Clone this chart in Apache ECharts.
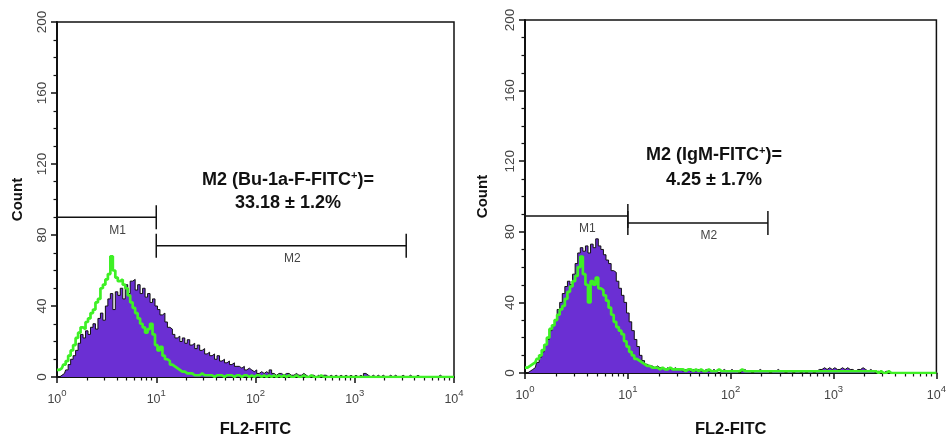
<!DOCTYPE html>
<html>
<head>
<meta charset="utf-8">
<script src="https://cdn.jsdelivr.net/npm/echarts@6/dist/echarts.min.js"></script>
<style>
html,body{margin:0;padding:0;background:#fff;}
#chart{width:949px;height:446px;}
</style>
</head>
<body>
<div id="chart"></div>
<script>
// Histogram channels: log10(FL2-FITC) from 0 to 4, one channel every 0.025 decades
var BIN_STEP = 0.025;

// Left panel (Bu-1a-F-FITC) – filled purple histogram
var leftPurple = [
  0,0,1,2,4,7,10,12,15,19,
  24,22,26,24,28,30,27,33,36,32,
  40,44,47,38,48,46,50,44,52,47,
  54,55,49,52,47,50,45,47,42,44,
  40,38,35,36,31,28,27,24,22,23,
  20,22,19,21,18,19,16,18,15,16,
  13,14,12,13,10,12,9,10,8,9,
  7,8,6,6,5,6,4,5,4,3,
  4,2,3,2,3,2,4,2,1,2,
  2,1,2,2,1,1,2,1,1,2,
  1,0,1,1,0,1,0,1,1,0,
  1,0,1,0,1,0,1,0,1,0,
  1,0,1,0,2,1,0,1,0,1,
  0,1,0,0,1,0,1,0,0,1,
  0,0,1,0,0,1,0,0,0,0,
  0,0,0,0,1,0,0,0,0,0,0
];
// Left panel – green control line
var leftGreen = [
  4,4,5,7,9,12,15,18,22,25,
  28,27,31,33,36,38,42,44,50,52,
  55,58,68,60,56,54,55,52,50,46,
  42,39,36,33,30,28,25,27,30,24,
  18,15,17,12,10,9,7,6,5,4,
  3,3,2,2,2,1,1,1,2,1,
  1,1,1,0,1,1,1,0,1,1,
  1,0,1,1,0,1,1,0,1,0,
  1,1,0,1,0,1,0,1,0,1,
  0,1,0,1,0,0,1,0,0,1,
  0,0,1,0,0,0,1,0,0,0,
  0,0,0,0,0,0,0,0,0,0,
  0,0,0,0,0,0,0,0,0,0,
  0,0,0,0,0,0,0,0,0,0,
  0,0,0,0,0,0,0,0,0,0,
  0,0,0,0,0,0,0,0,0,0,0
];
// Right panel (IgM-FITC) – filled purple histogram
var rightPurple = [
  0,0,1,2,3,6,9,12,16,19,
  24,27,30,36,40,45,49,52,50,56,
  62,68,71,69,72,68,73,71,76,72,
  70,67,64,62,58,57,52,48,44,40,
  34,29,24,19,15,10,7,5,4,4,
  3,4,3,3,2,3,2,2,3,2,
  2,1,2,2,1,2,1,2,1,1,
  2,1,1,2,1,0,1,2,1,1,
  2,1,1,0,1,2,1,1,0,1,
  1,2,1,1,1,0,1,1,2,1,
  1,0,1,1,0,1,1,0,1,0,
  1,1,0,1,2,2,3,2,3,2,
  3,2,2,3,2,3,2,2,1,2,
  2,3,2,1,2,1,0,1,0,0,
  1,0,0,0,0,0,0,0,0,0,
  0,0,0,0,0,0,0,0,0,0,0
];
// Right panel – green control line
var rightGreen = [
  3,3,4,5,6,8,10,13,16,20,
  25,27,30,33,36,38,42,46,49,52,
  55,60,66,56,50,40,52,50,54,48,
  47,44,41,37,33,29,26,24,22,18,
  15,12,10,8,7,6,5,4,4,3,
  3,3,2,3,2,2,3,2,2,2,
  2,2,1,2,2,1,2,1,2,1,
  1,2,1,1,1,2,1,1,1,1,
  1,1,1,1,2,1,1,1,1,1,
  1,1,1,1,1,1,1,1,1,1,
  1,1,1,1,1,1,1,1,1,1,
  1,1,1,1,1,1,1,1,1,1,
  1,1,1,1,1,1,1,1,1,1,
  1,1,1,1,1,1,1,0,1,0,
  0,1,0,0,0,0,0,0,0,0,
  0,0,0,0,0,0,0,0,0,0,0
];

// Gates: [from intensity, to intensity, count level, label]
var leftGates = [[1, 10, 90, 'M1'], [10, 3300, 74, 'M2']];
var rightGates = [[1, 10, 89, 'M1'], [10, 230, 85, 'M2']];

// Axis ticks
var xDecades = [0, 1, 2, 3, 4];
var minorMultipliers = [2, 3, 4, 5, 6, 7, 8, 9];
var yTicks = [0, 40, 80, 120, 160, 200];

// Annotations
var leftNote = ['M2 (Bu-1a-F-FITC{s|+})=', '33.18 ± 1.2%'];
var rightNote = ['M2 (IgM-FITC{s|+})=', '4.25 ± 1.7%'];

var FONT = "'Liberation Sans', Arial, Helvetica, sans-serif";
var PURPLE = '#6b2fd3';
var GREEN = '#3ef025';

function toPairs(arr) {
  return arr.map(function (v, i) { return [+(i * BIN_STEP).toFixed(4), v]; });
}
var minorPos = [];
for (var d = 0; d < 4; d++) {
  minorMultipliers.forEach(function (m) { minorPos.push(d + Math.log10(m)); });
}

function mainX(gi, nameGap) {
  return {
    gridIndex: gi, type: 'value', min: 0, max: 4, interval: 1, position: 'bottom',
    name: 'FL2-FITC', nameLocation: 'middle', nameGap: nameGap,
    nameTextStyle: { fontFamily: FONT, fontWeight: 'bold', fontSize: 16.5, color: '#111' },
    axisLine: { show: true, onZero: false, lineStyle: { color: '#111', width: 2 } },
    axisTick: { show: true, length: 6, lineStyle: { color: '#111', width: 1.5 } },
    axisLabel: {
      margin: 11, color: '#444',
      formatter: function (v) { return '{b|10}{s|' + v + '}'; },
      rich: {
        b: { fontFamily: FONT, fontSize: 12.5, color: '#444', verticalAlign: 'bottom', lineHeight: 18 },
        s: { fontFamily: FONT, fontSize: 9.5, color: '#444', verticalAlign: 'top', lineHeight: 18 }
      }
    },
    splitLine: { show: false }
  };
}
function minorX(gi) {
  return {
    gridIndex: gi, type: 'value', min: 0, max: 4, position: 'bottom',
    axisLine: { show: false },
    axisLabel: { show: false },
    axisTick: { show: true, length: 3.5, customValues: minorPos, lineStyle: { color: '#111', width: 1.2 } },
    splitLine: { show: false }
  };
}
function mainY(gi, nameGap) {
  return {
    gridIndex: gi, type: 'value', min: 0, max: 200, interval: 40,
    name: 'Count', nameLocation: 'middle', nameGap: nameGap, nameRotate: 90,
    nameTextStyle: { fontFamily: FONT, fontWeight: 'bold', fontSize: 15, color: '#111' },
    axisLine: { show: true, lineStyle: { color: '#111', width: 2 } },
    axisTick: { show: true, length: 6, lineStyle: { color: '#111', width: 1.5 } },
    minorTick: { show: true, splitNumber: 4, length: 3.5, lineStyle: { color: '#111', width: 1.2 } },
    axisLabel: { rotate: 90, margin: 8, fontFamily: FONT, fontSize: 13.5, color: '#444' },
    splitLine: { show: false }
  };
}
function histSeries(gi, data) {
  return {
    type: 'line', xAxisIndex: gi * 2, yAxisIndex: gi, data: toPairs(data),
    step: 'middle', symbol: 'none', silent: true, z: 2,
    lineStyle: { color: '#111', width: 1 },
    areaStyle: { color: PURPLE, opacity: 1 }
  };
}
function greenSeries(gi, data) {
  return {
    type: 'line', xAxisIndex: gi * 2, yAxisIndex: gi, data: toPairs(data),
    step: 'middle', symbol: 'none', silent: true, z: 3,
    lineStyle: { color: GREEN, width: 2.7 }
  };
}
function gateSeries(gi, gates) {
  return {
    type: 'custom', xAxisIndex: gi * 2, yAxisIndex: gi, z: 4, silent: true, clip: false,
    data: gates.map(function (g) { return [Math.log10(g[0]), Math.log10(g[1]), g[2], g[3]]; }),
    encode: { x: [0, 1], y: 2 },
    renderItem: function (params, api) {
      var p1 = api.coord([api.value(0), api.value(2)]);
      var p2 = api.coord([api.value(1), api.value(2)]);
      var cap = 12;
      var st = { stroke: '#111', lineWidth: 1.5 };
      return {
        type: 'group',
        children: [
          { type: 'line', shape: { x1: p1[0], y1: p1[1], x2: p2[0], y2: p2[1] }, style: st },
          { type: 'line', shape: { x1: p1[0], y1: p1[1] - cap, x2: p1[0], y2: p1[1] + cap }, style: st },
          { type: 'line', shape: { x1: p2[0], y1: p2[1] - cap, x2: p2[0], y2: p2[1] + cap }, style: st },
          { type: 'text', style: { text: api.value(3), x: (p1[0] + p2[0]) / 2 + 11, y: p1[1] + 13,
              align: 'center', verticalAlign: 'middle', fontFamily: FONT, fontSize: 12, fill: '#444' } }
        ]
      };
    }
  };
}
function noteText(lines, cx, y1, y2) {
  var rich = { s: { fontFamily: FONT, fontWeight: 'bold', fontSize: 11, verticalAlign: 'top', lineHeight: 20, fill: '#111' } };
  return [
    { type: 'text', x: cx, y: y1, style: { text: lines[0], align: 'center', verticalAlign: 'middle',
        fontFamily: FONT, fontWeight: 'bold', fontSize: 18, fill: '#111', rich: rich } },
    { type: 'text', x: cx, y: y2, style: { text: lines[1], align: 'center', verticalAlign: 'middle',
        fontFamily: FONT, fontWeight: 'bold', fontSize: 18, fill: '#111' } }
  ];
}

var chart = echarts.init(document.getElementById('chart'), null, { renderer: 'canvas' });
chart.setOption({
  backgroundColor: '#fff',
  animation: false,
  grid: [
    { left: 57, top: 22, width: 397, height: 355, show: true, borderColor: '#111', borderWidth: 1.5, backgroundColor: 'transparent' },
    { left: 525, top: 20, width: 419, height: 353, show: true, borderColor: '#111', borderWidth: 1.5, backgroundColor: 'transparent' }
  ],
  xAxis: [mainX(0, 44), minorX(0), mainX(1, 48), minorX(1)],
  yAxis: [mainY(0, 32), mainY(1, 35)],
  series: [
    histSeries(0, leftPurple), greenSeries(0, leftGreen), gateSeries(0, leftGates),
    histSeries(1, rightPurple), greenSeries(1, rightGreen), gateSeries(1, rightGates)
  ],
  graphic: noteText(leftNote, 288, 180, 203).concat(noteText(rightNote, 714, 155, 180))
});
</script>
</body>
</html>
